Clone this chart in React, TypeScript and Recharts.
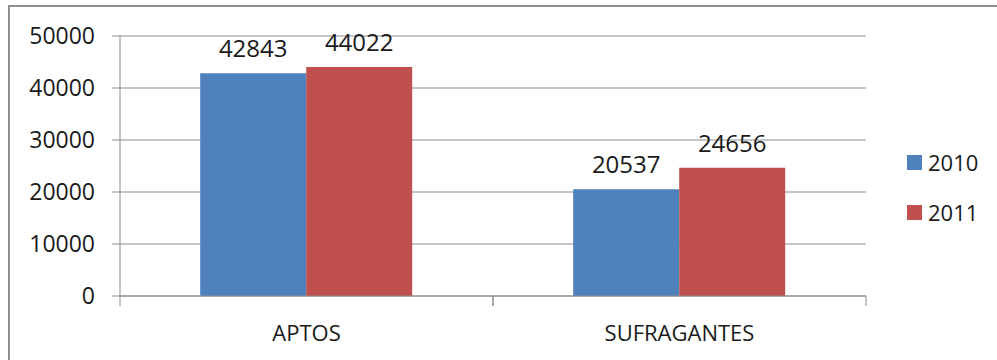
import React from 'react';
import { BarChart, Bar, XAxis, YAxis, CartesianGrid, Legend, LabelList } from 'recharts';

const categories = ['APTOS', 'SUFRAGANTES'];
const values2010 = [42843, 20537];
const values2011 = [44022, 24656];
const yTicks = [0, 10000, 20000, 30000, 40000, 50000];
const seriesNames = ['2010', '2011'];
const colors = ['#4F81BD', '#C0504D'];

const data = categories.map((name, i) => ({
  name,
  y2010: values2010[i],
  y2011: values2011[i],
}));

const FONT = '"Open Sans", sans-serif';
const GRID = '#8c8c8c';
const INK = '#1a1a1a';

// category label plus the Excel-style tick marks at the band edges
const CategoryTick = (props: any) => {
  const { x, y, payload } = props;
  const half = payload.offset || 0;
  return (
    <g>
      <line x1={x - half} x2={x - half} y1={y} y2={y + 10} stroke={GRID} />
      <line x1={x + half} x2={x + half} y1={y} y2={y + 10} stroke={GRID} />
      <text x={x} y={y + 36} textAnchor="middle" dominantBaseline="central"
        fill={INK} fontSize={22} fontFamily={FONT}>
        {payload.value}
      </text>
    </g>
  );
};

const LegendBox = () => (
  <div style={{ fontFamily: FONT, fontSize: 22, color: INK }}>
    {seriesNames.map((s, i) => (
      <div key={s} style={{ display: 'flex', alignItems: 'center', height: 50 }}>
        <span style={{ width: 15, height: 15, background: colors[i], marginRight: 6 }} />
        {s}
      </div>
    ))}
  </div>
);

const App = () => (
  <div style={{ height: 344 }}>
    {/* pinned to the page corner so the svg coordinates equal page pixels */}
    <div style={{ position: 'absolute', left: 0, top: 0, width: 997, height: 360, background: '#fff' }}>
      <BarChart width={997} height={360} data={data}
        margin={{ top: 36, right: 41, bottom: 4, left: 0 }}
        barCategoryGap="21.5%" barGap={0}>
        {/* frame of the original chart box, only top and left edges are in view */}
        <path d="M9 360 V6 H997" fill="none" stroke="#8f8f8f" strokeWidth={2} />
        <CartesianGrid vertical={false} stroke={GRID} strokeDasharray="" />
        <XAxis dataKey="name" height={60} tickLine={false} tickSize={0} tickMargin={0}
          axisLine={{ stroke: GRID }} tick={<CategoryTick />} interval={0} />
        <YAxis width={120} domain={[0, 50000]} ticks={yTicks} tickSize={8} tickMargin={17}
          axisLine={{ stroke: GRID }} tickLine={{ stroke: GRID }}
          tick={{ fill: INK, fontSize: 23, fontFamily: FONT }} />
        <Legend layout="vertical" align="right" verticalAlign="top" content={<LegendBox />}
          wrapperStyle={{ left: 907, top: 137, width: 90 }} />
        <Bar dataKey="y2010" name={seriesNames[0]} fill={colors[0]} isAnimationActive={false}>
          <LabelList dataKey="y2010" position="top" offset={16} fill={INK} fontSize={24} fontFamily={FONT} />
        </Bar>
        <Bar dataKey="y2011" name={seriesNames[1]} fill={colors[1]} isAnimationActive={false}>
          <LabelList dataKey="y2011" position="top" offset={16} fill={INK} fontSize={24} fontFamily={FONT} />
        </Bar>
      </BarChart>
    </div>
  </div>
);

export default App;
